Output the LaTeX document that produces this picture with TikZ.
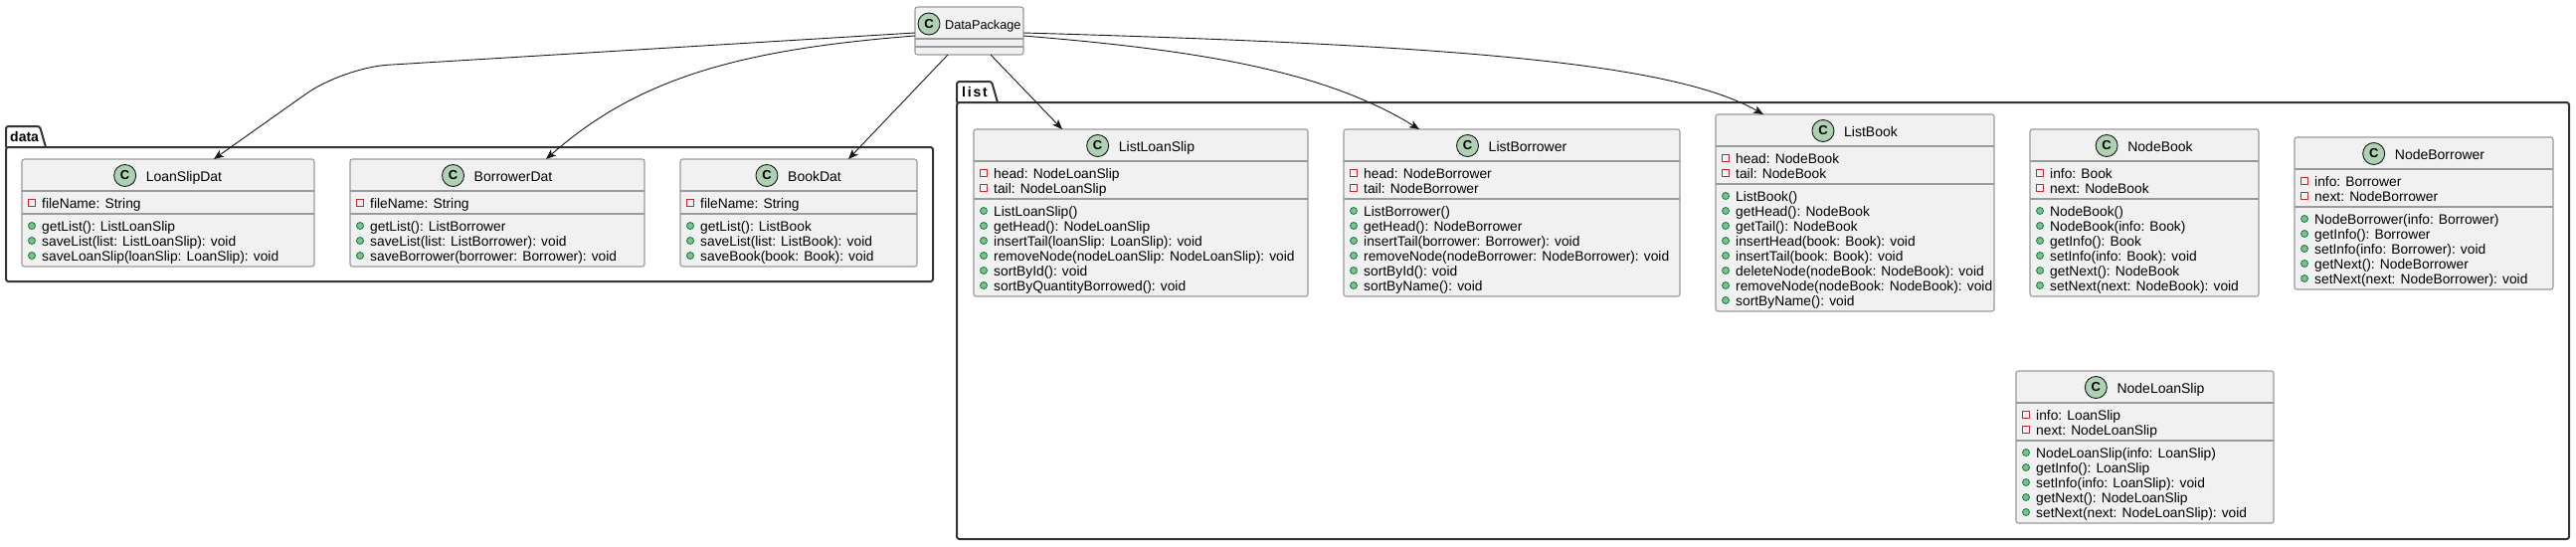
\documentclass[tikz,border=0pt]{standalone}
\usepackage{fontspec}
\setmainfont{Liberation Sans}
\usetikzlibrary{arrows.meta,calc}
\definecolor{boxfill}{HTML}{F1F1F1}
\definecolor{boxline}{HTML}{9A9A9A}
\definecolor{badgecol}{HTML}{ADD1B2}
\definecolor{privred}{HTML}{C82930}
\definecolor{pubfill}{HTML}{84BE84}
\definecolor{publine}{HTML}{038048}
\definecolor{ink}{HTML}{181818}
\definecolor{pkgcol}{HTML}{333333}
\tikzset{
 classbox/.style={draw=boxline, fill=boxfill, line width=1.1pt, rounded corners=2.5pt, inner sep=0pt, outer sep=0pt},
 divider/.style={draw=boxline, line width=1.1pt},
 titletext/.style={inner sep=0pt, font=\fontsize{14}{16}\selectfont, text=black},
 cbadge/.style={circle, draw=ink, fill=badgecol, line width=0.9pt, minimum size=22pt, inner sep=0pt, font=\fontsize{13}{13}\selectfont\bfseries},
 privicon/.style={draw=privred, line width=0.9pt, minimum size=6.5pt, inner sep=0pt},
 pubicon/.style={circle, draw=publine, fill=pubfill, line width=0.8pt, minimum size=7pt, inner sep=0pt},
 membertext/.style={anchor=base west, inner sep=0pt, font=\fontsize{13.8}{15}\selectfont},
 pkgframe/.style={draw=pkgcol, line width=2pt, rounded corners=2.5pt},
 pkglabel/.style={anchor=base west, inner sep=0pt, font=\fontsize{14}{16}\selectfont\bfseries},
 assoc/.style={draw=ink, line width=0.9pt, -{Stealth[length=10pt,width=8pt,inset=2.5pt]}},
}
% #1 name #2 left #3 right #4 top #5 n attrs #6 n methods #7 title #8 attrs #9 methods
\newcommand\umlclass[9]{%
 \pgfmathsetmacro\cL{#2}\pgfmathsetmacro\cR{#3}\pgfmathsetmacro\cT{#4}%
 \pgfmathsetmacro\dA{#4+32}%
 \pgfmathsetmacro\dB{\dA+23+15*(#5-1)}%
 \pgfmathsetmacro\cB{\dB+23+15*(#6-1)}%
 \pgfmathsetmacro\cW{#3-#2}%
 \pgfmathsetmacro\cH{\cB-#4}%
 \node[classbox, minimum width=\cW pt, minimum height=\cH pt, anchor=north west] (#1) at (\cL,\cT) {};
 \draw[divider] (\cL,\dA) -- (\cR,\dA);
 \draw[divider] (\cL,\dB) -- (\cR,\dB);
 \pgfmathsetmacro\cX{(#2+#3)/2+16}%
 \node[titletext, anchor=base] (#1-name) at (\cX,\cT+22) {#7};
 \node[cbadge] at ([xshift=-21pt,yshift=5.5pt]#1-name.base west) {C};
 \foreach \mline [count=\i] in {#8} {%
   \pgfmathsetmacro\ry{\dA+12+15*(\i-1)}%
   \node[privicon] at (\cL+10,\ry) {};
   \node[membertext] at (\cL+20,\ry+5) {\mline};
 }
 \foreach \mline [count=\i] in {#9} {%
   \pgfmathsetmacro\ry{\dB+12+15*(\i-1)}%
   \node[pubicon] at (\cL+10,\ry) {};
   \node[membertext] at (\cL+20,\ry+5) {\mline};
 }
}
\begin{document}
\begin{tikzpicture}[x=1pt,y=-1pt]
\useasboundingbox (0,0) rectangle (2590,549);
% packages
\draw[pkgframe] (6,148) -- (6,127) -- (40,127) -- (46,148);
\draw[pkgframe] (6,148) rectangle (938,283);
\node[pkglabel] (datalbl) at (10,142) {data};
\draw[pkgframe] (962,103) -- (962,82) -- (997,82) -- (1003,103);
\draw[pkgframe] (962,103) rectangle (2583,542);
\node[pkglabel] (listlbl) at (967,97) {l\kern1.8pt i\kern1.8pt s\kern1.8pt t};
% DataPackage
\node[classbox, minimum width=109pt, minimum height=48pt, anchor=north west] (dp) at (920,7) {};
\draw[divider] (920,39) -- (1029,39);
\draw[divider] (920,47) -- (1029,47);
\node[cbadge] (dpc) at (934,24) {C};
\node[titletext, anchor=base west, font=\fontsize{12.7}{14}\selectfont] (dpname) at (950,29) {DataPackage};
% data classes
\umlclass{lsd}{22}{316}{160}{1}{3}{LoanSlipDat}{fileName: String}{getList(): ListLoanSlip, saveList(list: ListLoanSlip): void, saveLoanSlip(loanSlip: LoanSlip): void}
\umlclass{bd}{352}{648}{160}{1}{3}{BorrowerDat}{fileName: String}{getList(): ListBorrower, saveList(list: ListBorrower): void, saveBorrower(borrower: Borrower): void}
\umlclass{bkd}{684}{922}{160}{1}{3}{BookDat}{fileName: String}{getList(): ListBook, saveList(list: ListBook): void, saveBook(book: Book): void}
% list classes
\umlclass{lls}{979}{1315}{130}{2}{6}{ListLoanSlip}{head: NodeLoanSlip, tail: NodeLoanSlip}{ListLoanSlip(), getHead(): NodeLoanSlip, insertTail(loanSlip: LoanSlip): void, removeNode(nodeLoanSlip: NodeLoanSlip): void, sortById(): void, sortByQuantityBorrowed(): void}
\umlclass{lbr}{1351}{1689}{130}{2}{6}{ListBorrower}{head: NodeBorrower, tail: NodeBorrower}{ListBorrower(), getHead(): NodeBorrower, insertTail(borrower: Borrower): void, removeNode(nodeBorrower: NodeBorrower): void, sortById(): void, sortByName(): void}
\umlclass{lbk}{1725}{2005}{115}{2}{8}{ListBook}{head: NodeBook, tail: NodeBook}{ListBook(), getHead(): NodeBook, getTail(): NodeBook, insertHead(book: Book): void, insertTail(book: Book): void, deleteNode(nodeBook: NodeBook): void, removeNode(nodeBook: NodeBook): void, sortByName(): void}
\umlclass{nbk}{2041}{2271}{130}{2}{6}{NodeBook}{info: Book, next: NodeBook}{NodeBook(), NodeBook(info: Book), getInfo(): Book, setInfo(info: Book): void, getNext(): NodeBook, setNext(next: NodeBook): void}
\umlclass{nbr}{2307}{2567}{138}{2}{5}{NodeBorrower}{info: Borrower, next: NodeBorrower}{NodeBorrower(info: Borrower), getInfo(): Borrower, setInfo(info: Borrower): void, getNext(): NodeBorrower, setNext(next: NodeBorrower): void}
\umlclass{nls}{2027}{2286}{373}{2}{5}{NodeLoanSlip}{info: LoanSlip, next: NodeLoanSlip}{NodeLoanSlip(info: LoanSlip), getInfo(): LoanSlip, setInfo(info: LoanSlip): void, getNext(): NodeLoanSlip, setNext(next: NodeLoanSlip): void}
% connectors
\coordinate (bend1) at (345,68);
\draw[assoc, rounded corners=45pt] ([yshift=-2pt]dp.west) -- (bend1) -- ([xshift=193pt]lsd.north west);
\draw[assoc] ([yshift=-5pt]dp.west) .. controls (740,50) and (640,80) .. ([xshift=197pt]bd.north west);
\draw[assoc] ([xshift=33pt]dp.south west) -- ([xshift=169pt]bkd.north west);
\draw[assoc] ([xshift=76pt]dp.south west) -- ([xshift=89pt]lls.north west);
\draw[assoc] ([yshift=-5pt]dp.east) .. controls (1200,50) and (1330,70) .. ([xshift=76pt]lbr.north west);
\draw[assoc] ([yshift=-2pt]dp.east) .. controls (1450,45) and (1680,62) .. ([xshift=48pt]lbk.north west);
\end{tikzpicture}
\end{document}
